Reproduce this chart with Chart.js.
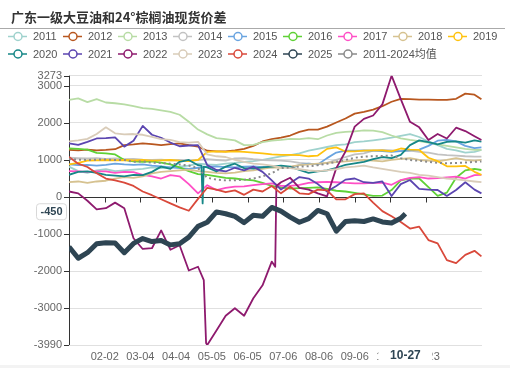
<!DOCTYPE html>
<html><head><meta charset="utf-8">
<script src="https://cdn.jsdelivr.net/npm/chart.js@4/dist/chart.umd.min.js"></script>
<style>html,body{margin:0;padding:0;background:#fff;}#wrap{width:510px;height:368px;position:relative;}</style>
</head><body><div id="wrap"><canvas id="c" width="510" height="368"></canvas></div>
<script>
// x positions (category index of the trading-day axis)
const days = [0,8,16,24,32,40,48,56,64,72,80,88,96,104,112, 115,116,117,119, 120,128,136,144,152,160,168,176, 179,180, 184,192,200,208,216,224,232,240,248,256,264,272,280,288, 292, 296,304,312,320,328,336,344,352, 358];
const xTickIdx = [31,62,93,124,155,186,217,248,279,310];
const xTickLabels = ['02-02','03-04','04-04','05-05','06-05','07-06','08-06','09-06','10-07','11-23'];
const yTicks = [3273,3000,2000,1000,0,-1000,-2000,-3000,-3990];
const seriesNames = ['2011','2012','2013','2014','2015','2016','2017','2018','2019','2020','2021','2022','2023','2024','2025','2011-2024均值'];
const seriesColors = ['#9fd2cd','#b8571f','#b8dca5','#c2c2c2','#6aa4e0','#5fd136','#ff4fc6','#d6c290','#ffc20e','#168787','#5b45b0','#8e1a6e','#d9ccb9','#d9493b','#2e4553','#8a8a8a'];
const n = null;
const s2011 = [820,700,650,720,750,700,720,740,760,800,780,800,820,850,900, n,n,n,n, 880,870,900,920,950,970,1000,1050, n,n, 1100,1130,1180,1250,1300,1350,1400,1420,1480,1500,1530,1560,1600,1650, n, 1700,1620,1500,1400,1300,1260,1200,1220, 1270];
const s2012 = [1270,1260,1280,1260,1270,1290,1400,1420,1450,1430,1400,1430,1450,1400,1360, n,n,n,n, 1250,1230,1230,1260,1300,1380,1500,1560, n,n, 1600,1660,1760,1820,1820,1900,2010,2120,2250,2300,2360,2450,2570,2650, n, 2640,2630,2630,2620,2620,2650,2790,2760, 2640];
const s2013 = [2620,2660,2560,2640,2550,2530,2500,2450,2400,2380,2340,2300,2220,2030,1820, n,n,n,n, 1690,1590,1560,1530,1400,1405,1480,1520, n,n, 1540,1570,1560,1590,1560,1660,1730,1760,1770,1800,1790,1750,1660,1580, n, 1540,1510,1470,1420,1380,1340,1300,1270, 1270];
const s2014 = [1060,1050,1040,1050,1030,1040,1020,1030,1010,1000,1010,990,1000,980,1000, n,n,n,n, 1020,1000,980,1040,1050,1020,1000,990, n,n, 980,960,920,900,880,920,1000,1080,1150,1180,1250,1270,1260,1240, n, 1250,1220,1200,1150,1130,1120,1100,1090, 1090];
const s2015 = [880,860,870,850,870,900,880,870,880,850,830,800,780,760,790, n,n,n,n, 820,830,810,800,820,830,810,800, n,n, 820,800,860,900,880,1050,1200,1250,1250,1260,1250,1240,1220,1240, n, 1260,1280,1380,1520,1540,1500,1380,1320, 1340];
const s2016 = [1310,1300,1280,1190,1180,1150,1000,960,950,960,930,880,800,700,620, n,n,n,n, 600,560,520,500,470,450,380,300, n,n, 260,230,240,250,260,220,170,150,110,70,30,40,190,450, n, 500,500,270,30,120,520,720,760, 730];
const s2017 = [700,690,680,690,690,650,680,670,600,560,500,590,560,350,100, n,n,n,n, 320,190,250,280,290,320,350,370, n,n, 300,300,330,380,400,410,400,380,370,370,380,390,330,460, n, 520,540,500,510,530,550,500,590, 600];
const s2018 = [400,420,380,420,440,500,540,520,560,640,680,700,720,740,700, n,n,n,n, 680,650,640,660,700,720,760,800, n,n, 790,820,860,880,900,920,940,960,980,1000,980,960,1000,1030, n, 1050,1000,980,960,1000,1050,1000,980, 1000];
const s2019 = [880,920,980,990,1000,990,1000,990,1000,980,990,1000,980,970,1000, n,n,n,n, 1220,1230,1220,1230,1220,1200,1180,1150, n,n, 1140,1140,1130,1100,1120,1300,1340,1230,1230,1250,1260,1260,1230,1310, n, 1280,1270,1060,970,830,830,840,680, 600];
const s2020 = [600,680,690,650,600,580,560,600,590,680,820,760,950,1000,860, 850,-170,820,n, 800,690,820,900,780,770,800,820, n,n, 850,820,730,650,690,720,790,870,910,950,1020,1080,1050,1140, n, 1400,1530,1480,1420,1490,1500,1470,1530, 1495];
const s2021 = [1450,1410,1490,1580,1590,1610,1360,1520,1920,1680,1600,1470,1370,1390,1400, n,n,n,n, 860,730,690,790,720,820,680,450, n,n, 200,380,540,500,350,150,300,470,500,400,380,420,30,350, n, 460,220,200,190,30,190,400,200, 100];
const s2022 = [150,100,-100,-330,-300,-150,-300,-1110,-1400,-1380,-900,-1420,-1300,-1980,-1880, n,n,-2240,-3940, -3990,-3600,-3200,-3000,-3200,-2730,-2380,-1740, -1880,300, 400,520,250,200,100,20,780,1230,1900,2110,2200,2500,3273,2640, n, 2030,1880,1540,1700,1580,1870,1780,1640, 1540];
const s2023 = [1500,1530,1570,1700,1880,1720,1690,1700,1680,1620,1560,1540,1480,1470,1490, n,n,n,n, 1150,1100,1080,1000,950,900,880,850, n,n, 800,780,750,720,700,720,750,800,820,850,800,760,720,680, n, 650,600,580,540,500,480,450,420, 400];
const s2024 = [1080,900,810,640,500,450,390,300,150,50,-60,-170,-280,-370,-50, n,n,n,n, 250,200,130,180,60,200,150,300, n,n, 100,280,100,80,200,180,-60,-60,80,100,-150,-380,-520,-670, n, -850,-800,-1160,-1250,-1700,-1780,-1560,-1450, -1600];
const s2025 = [-1340,-1650,-1500,-1260,-1230,-1240,-1500,-1250,-1120,-1200,-1170,-1290,-1260,-1080,-790, n,n,n,n, -680,-400,-450,-520,-690,-490,-520,-280, n,n, -380,-540,-680,-580,-360,-450,-920,-660,-640,-660,-590,-670,-700,-570, -450, n,n,n,n,n,n,n,n, n];
const sAvg = [1020,1010,1000,1010,1010,1000,1000,950,960,930,920,900,880,850,780, n,n,n,n, 520,470,450,450,470,500,560,640, n,n, 780,800,820,830,860,900,950,1000,1060,1090,1100,1110,1120,1050, n, 1000,980,950,920,910,920,930,950, 960];
const pointerX = 292, pointerXLabel = '10-27', pointerY = -450;

const allSeries = [s2011,s2012,s2013,s2014,s2015,s2016,s2017,s2018,s2019,s2020,s2021,s2022,s2023,s2024,s2025,sAvg];

const datasets = allSeries.map((vals, i) => {
  const pts = [];
  vals.forEach((v, k) => { if (v !== null) pts.push({x: days[k], y: v}); });
  const isAvg = i === 15, is25 = i === 14;
  return {
    label: seriesNames[i],
    data: pts,
    borderColor: seriesColors[i],
    backgroundColor: seriesColors[i],
    borderWidth: is25 ? 5 : (isAvg ? 2 : 1.8),
    borderDash: isAvg ? [2, 3] : [],
    pointRadius: 0,
    tension: 0,
    fill: false,
    spanGaps: true,
    borderJoinStyle: 'round',
    order: 100 - i
  };
});

const deco = {
  id: 'deco',
  beforeDatasetsDraw(chart) {
    const {ctx, chartArea: a, scales: {x, y}} = chart;
    ctx.save();
    ctx.strokeStyle = '#333';
    ctx.lineWidth = 1;
    // y axis line and ticks
    ctx.beginPath();
    ctx.moveTo(a.left + 0.5, a.top); ctx.lineTo(a.left + 0.5, a.bottom);
    yTicks.forEach(v => { const py = Math.round(y.getPixelForValue(v)) + 0.5; ctx.moveTo(a.left - 5, py); ctx.lineTo(a.left, py); });
    // x axis line at zero with ticks
    const y0 = Math.round(y.getPixelForValue(0)) + 0.5;
    ctx.moveTo(a.left, y0); ctx.lineTo(a.right, y0);
    xTickIdx.forEach(v => { const px = Math.round(x.getPixelForValue(v)) + 0.5; ctx.moveTo(px, y0); ctx.lineTo(px, y0 + 5); });
    ctx.moveTo(a.left + 0.5, y0); ctx.lineTo(a.left + 0.5, y0 + 5);
    ctx.stroke();
    ctx.restore();
  },
  afterDraw(chart) {
    const {ctx, scales: {x, y}} = chart;
    ctx.save();
    // title
    ctx.fillStyle = '#333';
    ctx.font = 'bold 13px "Noto Sans CJK SC", sans-serif';
    ctx.textBaseline = 'middle';
    ctx.textAlign = 'left';
    ctx.fillText('广东一级大豆油和24°棕榈油现货价差', 11, 17);
    ctx.strokeStyle = '#aaa';
    ctx.lineWidth = 1;
    ctx.beginPath(); ctx.moveTo(0, 28.5); ctx.lineTo(505, 28.5); ctx.stroke();
    // legend
    ctx.font = '11px "Liberation Sans", "Noto Sans CJK SC", sans-serif';
    seriesNames.forEach((name, k) => {
      const row = k < 9 ? 0 : 1, col = k < 9 ? k : k - 9;
      const x0 = 8 + col * 55, yy = row ? 54 : 36.5;
      ctx.strokeStyle = seriesColors[k];
      ctx.lineWidth = 1.5;
      ctx.beginPath(); ctx.moveTo(x0, yy); ctx.lineTo(x0 + 19, yy); ctx.stroke();
      ctx.beginPath(); ctx.arc(x0 + 10, yy, 4, 0, Math.PI * 2);
      ctx.fillStyle = '#fff'; ctx.fill(); ctx.stroke();
      ctx.fillStyle = '#555';
      ctx.fillText(name, x0 + 25, yy + 0.5);
    });
    // x pointer label
    const px = x.getPixelForValue(pointerX);
    ctx.fillStyle = '#fff';
    ctx.fillRect(px - 27, 347, 54, 18);
    ctx.fillStyle = '#2e4553';
    ctx.font = 'bold 12px "Liberation Sans", sans-serif';
    ctx.textAlign = 'center';
    ctx.fillText(pointerXLabel, px, 356);
    // y pointer label
    const py = y.getPixelForValue(pointerY) - 2;
    ctx.fillStyle = '#fff';
    ctx.strokeStyle = '#d8d8d8';
    ctx.lineWidth = 1;
    ctx.beginPath();
    ctx.roundRect(36.5, py - 8, 30, 16, 3);
    ctx.fill(); ctx.stroke();
    ctx.fillStyle = '#2e4553';
    ctx.font = 'bold 11px "Liberation Sans", sans-serif';
    ctx.fillText(String(pointerY), 51.5, py + 0.5);
    // bottom band
    ctx.fillStyle = '#f3f3f3';
    ctx.fillRect(0, 365, 510, 3);
    ctx.restore();
  }
};

new Chart(document.getElementById('c'), {
  type: 'line',
  data: { datasets },
  plugins: [deco],
  options: {
    responsive: false,
    animation: false,
    devicePixelRatio: 1,
    layout: { padding: { top: 75.7, right: 28, bottom: 0, left: 0 } },
    plugins: { legend: { display: false }, tooltip: { enabled: false }, title: { display: false } },
    scales: {
      x: {
        type: 'linear', min: 0, max: 358.5,
        afterBuildTicks: s => { s.ticks = xTickIdx.map(v => ({ value: v })); },
        afterFit: s => { s.height = 23; },
        grid: { display: false, drawTicks: false },
        border: { display: false },
        ticks: {
          autoSkip: false, maxRotation: 0, minRotation: 0, padding: 5,
          color: '#666', font: { size: 11, family: '"Liberation Sans", sans-serif' },
          callback: v => { const k = xTickIdx.indexOf(v); return k >= 0 ? xTickLabels[k] : ''; }
        }
      },
      y: {
        type: 'linear', min: -3990, max: 3273,
        afterBuildTicks: s => { s.ticks = yTicks.map(v => ({ value: v })); },
        afterFit: s => { s.width = 69; },
        grid: { color: '#e0e0e0', drawTicks: false },
        border: { display: false },
        ticks: {
          autoSkip: false, padding: 7,
          color: '#666', font: { size: 11, family: '"Liberation Sans", sans-serif' },
          callback: v => String(v)
        }
      }
    }
  }
});
</script></body></html>
